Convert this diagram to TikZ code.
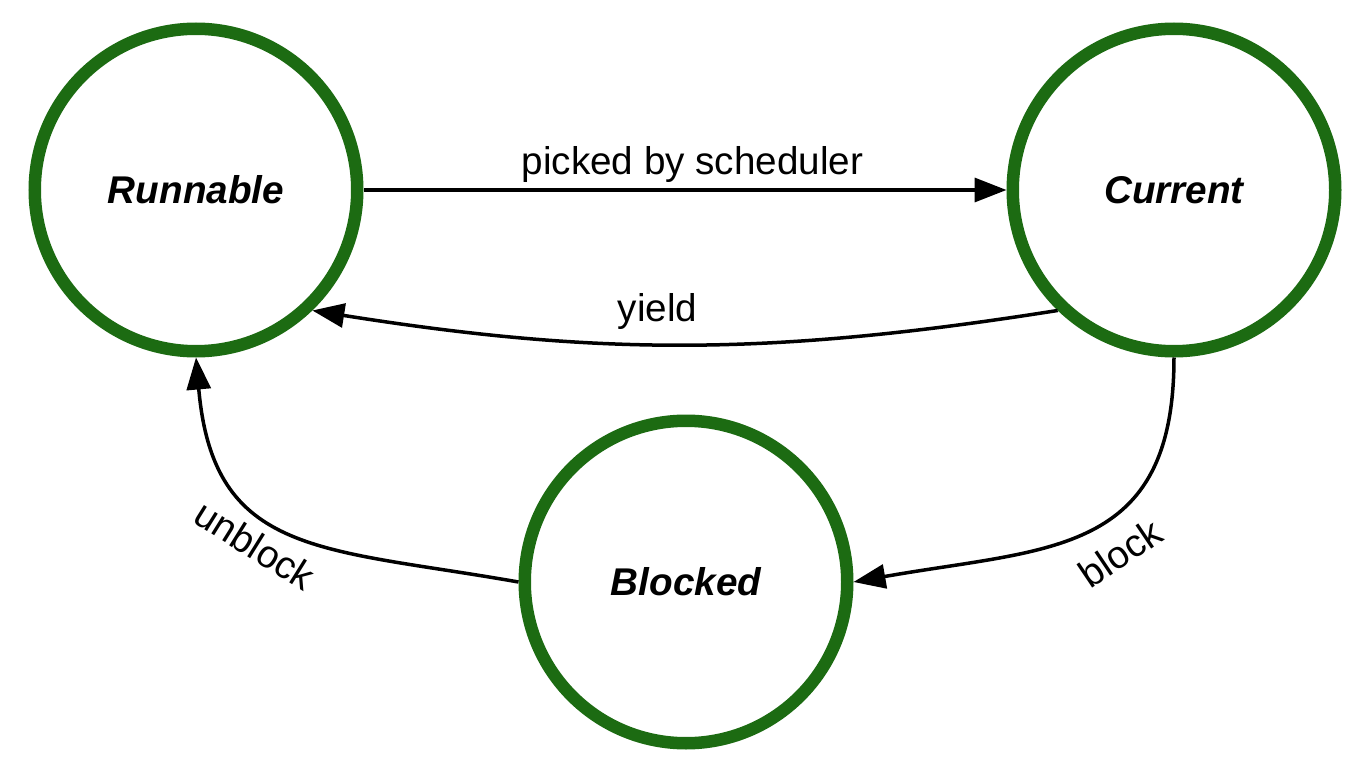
\documentclass[tikz,border=0pt]{standalone}
\usepackage{fontspec}
\setmainfont{Liberation Sans}
\usetikzlibrary{arrows.meta, positioning, calc}
\definecolor{verde}{RGB}{28,107,18}

\begin{document}
\begin{tikzpicture}[>={Triangle[length=0.64cm, width=0.48cm]},
    estado/.style={circle, draw=verde, line width=0.25cm, minimum size=6.45cm, inner sep=0pt,
                   font=\fontsize{22}{26}\selectfont\bfseries\itshape},
    trans/.style={->, line width=0.07cm},
    rotulo/.style={font=\fontsize{22}{26}\selectfont}]

    \useasboundingbox (0,0) rectangle (27.32,-15.36);

    \pgfmathsetmacro{\ytopo}{-3.8}

    % estados
    \node[estado] (runnable) at (3.92,\ytopo) {Runnable};
    \node[estado] (current) at (23.48,\ytopo) {Current};
    \node[estado] (blocked) at (13.72,-11.64) {Blocked};

    % transicoes
    \draw[trans] (runnable) -- (current) node[midway, above, xshift=0.15cm, rotulo] (picked) {picked by scheduler};
    \draw[trans] (current.226) to[out=189, in=-9] node[midway, above=0.15cm, xshift=-0.55cm, rotulo] (yieldlbl) {yield} (runnable.314);
    \draw[trans] (current.south) to[out=-90, in=10, looseness=1.3] (blocked.east);
    \node[rotulo, rotate=34] (blocklbl) at (22.4,-11.06) {block};
    \draw[trans] (blocked.west) to[out=170, in=-85, looseness=1.3] (runnable.south);
    \node[rotulo, rotate=-32] (unblocklbl) at (5.1,-10.9) {unblock};

\end{tikzpicture}
\end{document}
